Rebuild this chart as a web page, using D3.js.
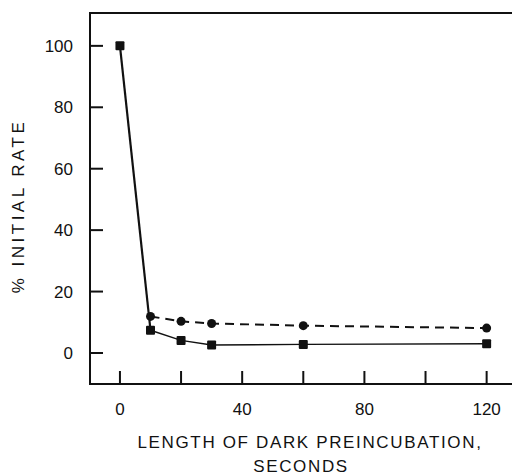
<!DOCTYPE html>
<html>
<head>
<meta charset="utf-8">
<script src="https://cdn.jsdelivr.net/npm/d3@7"></script>
<style>
	body { margin: 0; background: #fff; }
	text { font-family: "Liberation Sans", Arial, sans-serif; fill: #111; }
	.tickLabel { font-size: 17px; }
	.axisTitle { font-size: 17px; letter-spacing: 1.65px; }
	.yTitle { font-size: 17px; letter-spacing: 3.5px; }
</style>
</head>
<body>
<div id="chart"></div>
<script>

// data: seconds of dark preincubation vs % of initial rate
const seconds = [0, 10, 20, 30, 60, 120];
const squareRate = [100, 7.4, 4.1, 2.6, 2.8, 3.0];
const circleSeconds = [10, 20, 30, 60, 120];
const circleRate = [11.9, 10.3, 9.6, 8.9, 8.1];
const xTicks = [0, 20, 40, 60, 80, 100, 120];
const xTickLabels = [0, 40, 80, 120];
const yTicks = [0, 20, 40, 60, 80, 100];

const width = 514;
const height = 476;
const margin = {top: 13, right: 2, bottom: 92, left: 90};

const svg = d3.select("#chart").append("svg")
	.attr("width", width)
	.attr("height", height);

// scales
const xScale = d3.scaleLinear()
	.domain([-9.8, 128.3])
	.range([margin.left, width - margin.right]);

const yScale = d3.scaleLinear()
	.domain([-10.1, 110.7])
	.range([height - margin.bottom, margin.top]);

const x0 = margin.left, x1 = width - margin.right;
const y0 = height - margin.bottom, y1 = margin.top;

// frame: left, bottom and top lines
svg.append("path")
	.attr("d", `M${x1},${y1} H${x0} V${y0} H${x1}`)
	.attr("fill", "none")
	.attr("stroke", "#111")
	.attr("stroke-width", 2);

// ticks point inward
svg.append("g")
	.selectAll("line")
	.data(yTicks)
	.join("line")
	.attr("x1", x0)
	.attr("x2", x0 + 13)
	.attr("y1", d => yScale(d))
	.attr("y2", d => yScale(d))
	.attr("stroke", "#111")
	.attr("stroke-width", 2);

svg.append("g")
	.selectAll("line")
	.data(xTicks)
	.join("line")
	.attr("x1", d => xScale(d))
	.attr("x2", d => xScale(d))
	.attr("y1", y0)
	.attr("y2", y0 - 13)
	.attr("stroke", "#111")
	.attr("stroke-width", 2);

// tick labels
svg.append("g")
	.selectAll("text")
	.data(yTicks)
	.join("text")
	.attr("class", "tickLabel")
	.attr("x", 73)
	.attr("y", d => yScale(d))
	.attr("dy", "0.36em")
	.attr("text-anchor", "end")
	.text(d => d);

svg.append("g")
	.selectAll("text")
	.data(xTickLabels)
	.join("text")
	.attr("class", "tickLabel")
	.attr("x", d => xScale(d))
	.attr("y", 415)
	.attr("text-anchor", "middle")
	.text(d => d);

// axis titles
svg.append("text")
	.attr("class", "yTitle")
	.attr("transform", `translate(24, 206) rotate(-90)`)
	.attr("text-anchor", "middle")
	.text("% INITIAL RATE");

svg.append("text")
	.attr("class", "axisTitle")
	.attr("x", 310)
	.attr("y", 448)
	.attr("text-anchor", "middle")
	.text("LENGTH OF DARK PREINCUBATION,");

svg.append("text")
	.attr("class", "axisTitle")
	.attr("x", 301)
	.attr("y", 472)
	.attr("text-anchor", "middle")
	.text("SECONDS");

// series
const squares = seconds.map((s, i) => ({s: s, v: squareRate[i]}));
const circles = circleSeconds.map((s, i) => ({s: s, v: circleRate[i]}));

const line = d3.line()
	.x(d => xScale(d.s))
	.y(d => yScale(d.v));

// dashed line through the circles
svg.append("path")
	.datum(circles)
	.attr("fill", "none")
	.attr("stroke", "#111")
	.attr("stroke-width", 2)
	.attr("stroke-dasharray", "9 6")
	.attr("d", line);

// the drop from 0 to 10 s is drawn heavier than the rest
svg.append("path")
	.datum(squares.slice(0, 2))
	.attr("fill", "none")
	.attr("stroke", "#111")
	.attr("stroke-width", 2.2)
	.attr("d", line);

svg.append("path")
	.datum(squares.slice(1))
	.attr("fill", "none")
	.attr("stroke", "#111")
	.attr("stroke-width", 1.4)
	.attr("d", line);

svg.append("g")
	.selectAll("circle")
	.data(circles)
	.join("circle")
	.attr("cx", d => xScale(d.s))
	.attr("cy", d => yScale(d.v))
	.attr("r", 4.5)
	.attr("fill", "#111");

svg.append("g")
	.selectAll("rect")
	.data(squares)
	.join("rect")
	.attr("x", d => xScale(d.s) - 4.5)
	.attr("y", d => yScale(d.v) - 4.5)
	.attr("width", 9)
	.attr("height", 9)
	.attr("rx", 1)
	.attr("fill", "#111");

</script>
</body>
</html>
